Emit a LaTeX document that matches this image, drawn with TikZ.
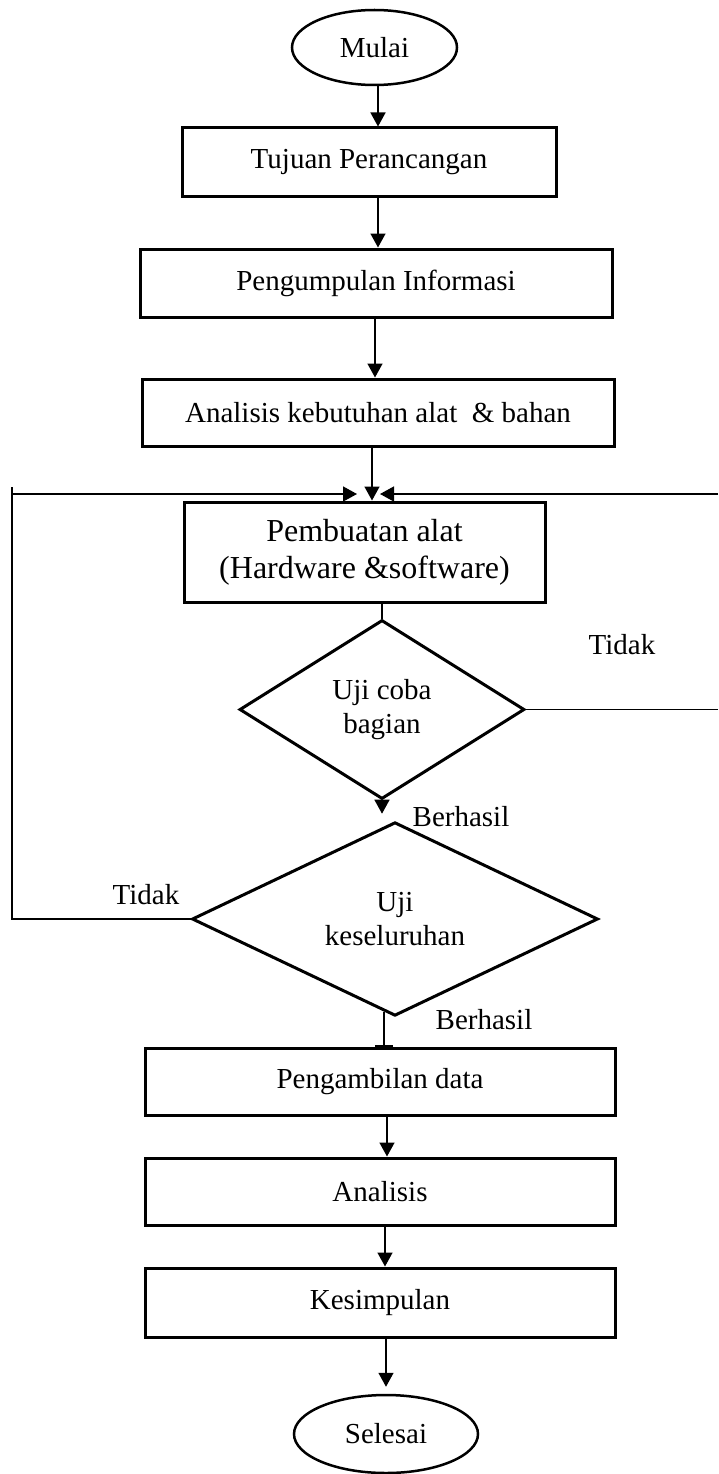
\documentclass[tikz,border=0pt]{standalone}
\usepackage{fontspec}
\setmainfont{Liberation Serif}
\usetikzlibrary{shapes.geometric,arrows.meta,calc}
\begin{document}
\begin{tikzpicture}[x=1pt,y=-1pt,
  txt/.style={font=\fontsize{29}{34}\selectfont},
  box/.style={draw, rectangle, line width=3pt, inner sep=0pt, align=center, txt},
  term/.style={draw, ellipse, line width=2.5pt, inner sep=0pt, txt},
  dec/.style={draw, diamond, line width=3pt, inner sep=0pt, align=center, txt},
  conn/.style={line width=1.5pt},
  arr/.style={conn, -{Triangle[length=14pt,width=15pt]}},
  lbl/.style={txt, inner sep=0pt}]
\useasboundingbox (0,0) rectangle (718,1474);

\node[term, minimum width=165pt, minimum height=75pt] (mulai) at (374.5,47.5) {Mulai};
\node[box, minimum width=374pt, minimum height=69pt] (tujuan) at (369,162.5) {Tujuan Perancangan};
\node[box, minimum width=472pt, minimum height=68pt] (kumpul) at (376,283) {Pengumpulan Informasi};
\node[box, minimum width=472pt, minimum height=67pt] (analisa) at (378,412.5) {Analisis kebutuhan alat\ \ \& bahan};
\node[box, minimum width=361pt, minimum height=100pt, font=\fontsize{32}{37}\selectfont] (buat) at (364.5,552) {Pembuatan alat\\(Hardware \&software)};
\node[dec, minimum width=285pt, minimum height=179pt] (d1) at (382,709.5) {Uji coba\\bagian};
\node[dec, minimum width=406pt, minimum height=178pt] (d2) at (395,919) {Uji\\keseluruhan};
\node[box, minimum width=470pt, minimum height=67pt] (ambil) at (380,1081.5) {Pengambilan data};
\node[box, minimum width=470pt, minimum height=67pt] (anal2) at (380,1191.5) {Analisis};
\node[box, minimum width=470pt, minimum height=69pt] (simpul) at (380,1302.5) {Kesimpulan};
\node[term, minimum width=184pt, minimum height=78pt] (selesai) at (386,1434) {Selesai};

% main flow
\coordinate (a1) at ([xshift=3.5pt]mulai.south);
\draw[arr] (a1) -- (a1 |- tujuan.north);
\coordinate (a2) at ([xshift=9pt]tujuan.south);
\draw[arr] (a2) -- (a2 |- kumpul.north);
\coordinate (a3) at ([xshift=-1pt]kumpul.south);
\draw[arr] (a3) -- (a3 |- analisa.north);
\coordinate (a4) at ([xshift=-6pt]analisa.south);
\draw[arr] (a4) -- (a4 |- buat.north);

% feedback loops
\coordinate (lt) at (12,487);
\coordinate (rt) at (718,494);
\coordinate (bl) at ([xshift=-7.5pt]buat.north);
\coordinate (br) at ([xshift=15.5pt]buat.north);
\coordinate (inL) at (bl |- rt);
\coordinate (inR) at (br |- rt);
\draw[conn] (d2.west) -| (lt);
\draw[arr] (lt |- inL) -- (inL);
\draw[arr] (rt) -- (inR);
\draw[conn] (d1.east) -- (d1.east -| rt);

\draw[conn] (d1.north |- buat.south) -- (d1.north);
\coordinate (d2top) at ([yshift=7pt]d2.north);
\draw[arr] (d1.south) -- (d1.south |- d2top);
\coordinate (d2b) at ([xshift=-11pt,yshift=5pt]d2.south);
\draw[conn, -{Bar[width=18pt,line width=2pt]}] (d2b) -- (d2b |- ambil.north);

\coordinate (a10) at ([xshift=7pt]ambil.south);
\draw[arr] (a10) -- (a10 |- anal2.north);
\coordinate (a11) at ([xshift=5pt]anal2.south);
\draw[arr] (a11) -- (a11 |- simpul.north);
\coordinate (a12) at ([yshift=7pt]selesai.north);
\draw[arr] (a12 |- simpul.south) -- (a12);

% labels
\node[lbl] (t1) at (622,645) {Tidak};
\node[lbl] (b1) at (461,817) {Berhasil};
\node[lbl] (t2) at (146,895) {Tidak};
\node[lbl] (b2) at (484,1020) {Berhasil};
\end{tikzpicture}
\end{document}
